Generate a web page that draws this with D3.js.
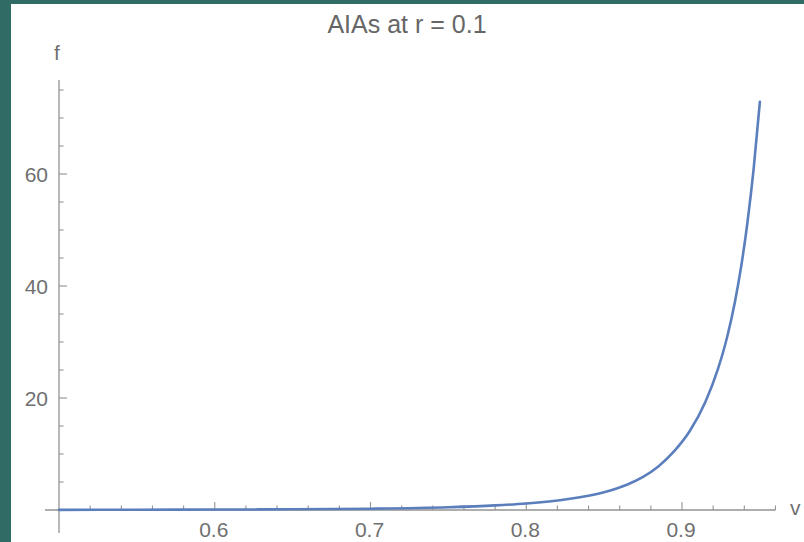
<!DOCTYPE html>
<html>
<head>
<meta charset="utf-8">
<script src="https://cdn.jsdelivr.net/npm/d3@7"></script>
<style>
  body { margin: 0; background: #316b66; }
  text { font-family: "Liberation Sans", Arial, sans-serif; }
</style>
</head>
<body>
<div id="chart"></div>
<script>
// data
var vValues = [0.50, 0.55, 0.60, 0.65, 0.70, 0.75, 0.78, 0.80, 0.825, 0.85, 0.865, 0.875,
               0.885, 0.895, 0.905, 0.915, 0.923, 0.929, 0.934, 0.938, 0.942, 0.946, 0.95];
var fValues = [0.03, 0.05, 0.08, 0.13, 0.23, 0.49, 0.82, 1.17, 1.88, 3.18, 4.56, 5.92,
               7.83, 10.5, 14.1, 19.3, 25.1, 30.9, 37.2, 43.5, 51.3, 60.9, 72.9];
var xMajor = [0.6, 0.7, 0.8, 0.9];
var yMajor = [20, 40, 60];
var title = "AIAs at r = 0.1";

var svgWidth = 804;
var svgHeight = 542;

var svg = d3.select("#chart")
  .append("svg")
  .attr("width", svgWidth)
  .attr("height", svgHeight);

// teal frame + white panel
svg.append("rect").attr("width", svgWidth).attr("height", svgHeight).attr("fill", "#316b66");
svg.append("rect").attr("x", 11).attr("y", 4).attr("width", svgWidth - 11).attr("height", svgHeight - 4).attr("fill", "#fff");

var x = d3.scaleLinear().domain([0.5, 0.9]).range([59, 682]);
var y = d3.scaleLinear().domain([0, 60]).range([510, 174]);

var axisColor = "#939393";
var textColor = "#707070";

// minor ticks
var xMinor = d3.range(0.52, 0.961, 0.02).filter(d => !xMajor.some(m => Math.abs(m - d) < 1e-6));
var yMinor = d3.range(5, 76, 5).filter(d => d % 20 !== 0);

var g = svg.append("g");

// axis lines
g.append("line")
  .attr("x1", x(0.491)).attr("x2", x(0.96))
  .attr("y1", y(0)).attr("y2", y(0))
  .attr("stroke", axisColor).attr("stroke-width", 1.3);

g.append("line")
  .attr("x1", x(0.5)).attr("x2", x(0.5))
  .attr("y1", y(76.8)).attr("y2", y(-4.1))
  .attr("stroke", axisColor).attr("stroke-width", 1.3);

// x ticks
g.selectAll(".xmin").data(xMinor).enter().append("line")
  .attr("x1", d => x(d)).attr("x2", d => x(d))
  .attr("y1", y(0)).attr("y2", y(0) - 4.5)
  .attr("stroke", axisColor).attr("stroke-width", 1.1);

g.selectAll(".xmaj").data(xMajor).enter().append("line")
  .attr("x1", d => x(d)).attr("x2", d => x(d))
  .attr("y1", y(0)).attr("y2", y(0) - 8)
  .attr("stroke", axisColor).attr("stroke-width", 1.1);

g.selectAll(".xlab").data(xMajor).enter().append("text")
  .attr("x", d => x(d) - 1)
  .attr("y", 537)
  .attr("text-anchor", "middle")
  .attr("font-size", "21px")
  .attr("fill", textColor)
  .text(d => d3.format(".1f")(d));

// y ticks
g.selectAll(".ymin").data(yMinor).enter().append("line")
  .attr("x1", x(0.5)).attr("x2", x(0.5) + 4.5)
  .attr("y1", d => y(d)).attr("y2", d => y(d))
  .attr("stroke", axisColor).attr("stroke-width", 1.1);

g.selectAll(".ymaj").data(yMajor).enter().append("line")
  .attr("x1", x(0.5)).attr("x2", x(0.5) + 8)
  .attr("y1", d => y(d)).attr("y2", d => y(d))
  .attr("stroke", axisColor).attr("stroke-width", 1.1);

g.selectAll(".ylab").data(yMajor).enter().append("text")
  .attr("x", 48)
  .attr("y", d => y(d))
  .attr("dy", "0.36em")
  .attr("text-anchor", "end")
  .attr("font-size", "21px")
  .attr("fill", textColor)
  .text(d => d);

// axis names
svg.append("text")
  .attr("x", 57).attr("y", 60)
  .attr("text-anchor", "middle")
  .attr("font-size", "21px")
  .attr("fill", textColor)
  .text("f");

svg.append("text")
  .attr("x", 790).attr("y", 515)
  .attr("font-size", "21px")
  .attr("fill", textColor)
  .text("v");

// title
svg.append("text")
  .attr("x", 407).attr("y", 33)
  .attr("text-anchor", "middle")
  .attr("font-size", "25px")
  .attr("fill", "#666")
  .text(title);

// curve
var data = vValues.map((v, i) => ({ v: v, f: fValues[i] }));
var line = d3.line()
  .x(d => x(d.v))
  .y(d => y(d.f))
  .curve(d3.curveMonotoneX);

svg.append("path")
  .datum(data)
  .attr("d", line)
  .attr("fill", "none")
  .attr("stroke", "#5b7fbd")
  .attr("stroke-width", 2.6)
  .attr("stroke-linecap", "round");
</script>
</body>
</html>
